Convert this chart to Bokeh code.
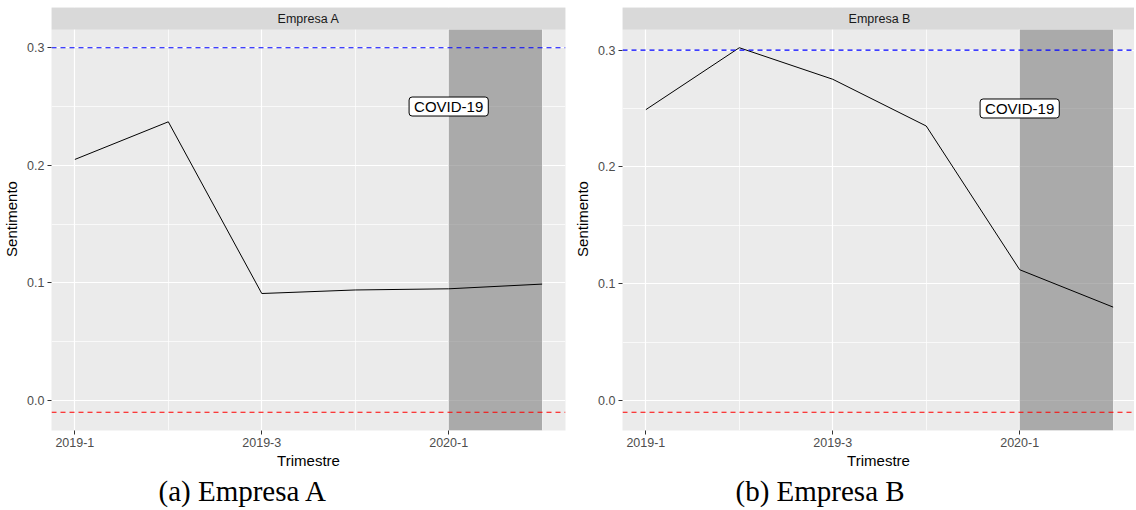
from bokeh.plotting import figure
from bokeh.layouts import row
from bokeh.models import FixedTicker, Span, Label, Range1d, PrintfTickFormatter, Title
from bokeh.core.properties import value
from bokeh.embed import file_html
from bokeh.resources import INLINE

# ---- data ----
quarters = ["2019-1", "2019-2", "2019-3", "2019-4", "2020-1", "2020-2"]
x_idx = [1, 2, 3, 4, 5, 6]
tick_idx = [1, 3, 5]
minor_idx = [2, 4, 6]
sent_a = [0.205, 0.237, 0.091, 0.094, 0.095, 0.099]
sent_b = [0.249, 0.302, 0.275, 0.235, 0.112, 0.080]
upper_line = 0.30
lower_line = -0.01
covid_start, covid_end = 5, 6
covid_label = "COVID-19"
covid_label_y = 0.25
y_major = [0.0, 0.1, 0.2, 0.3]
y_minor = [0.05, 0.15, 0.25]
panels = ["Empresa A", "Empresa B"]
captions = ["(a) Empresa A", "(b) Empresa B"]

# ---- style ----
SANS = "Liberation Sans"
SERIF = "Liberation Serif"
PANEL_H = 401   # px of data panel
STRIP_H = 22
FULL_W = 514
UNIT_X = FULL_W / 5.5


def make_panel(title, vals, frame_w, left_b, right_b, caption, caption_off):
    lo = min(min(vals), lower_line)
    hi = max(max(vals), upper_line)
    pad = (hi - lo) * 0.05
    ymin, ymax = lo - pad, hi + pad
    strip_top = ymax + STRIP_H * (ymax - ymin) / PANEL_H
    x0 = 0.75
    x1 = x0 + frame_w / UNIT_X
    xfull = x0 + FULL_W / UNIT_X
    p = figure(frame_width=frame_w, frame_height=PANEL_H + STRIP_H,
               x_range=Range1d(x0, x1), y_range=Range1d(ymin, strip_top),
               output_backend="svg", toolbar_location=None,
               min_border_left=left_b, min_border_right=right_b,
               min_border_top=7, min_border_bottom=80,
               background_fill_color="#EBEBEB", border_fill_color="white",
               outline_line_color=None)
    # axes
    p.xaxis.ticker = FixedTicker(ticks=tick_idx, minor_ticks=minor_idx)
    p.xaxis.major_label_overrides = {i: quarters[i - 1] for i in tick_idx}
    p.yaxis.ticker = FixedTicker(ticks=y_major, minor_ticks=y_minor)
    p.yaxis.formatter = PrintfTickFormatter(format="%.1f")
    for ax in (p.xaxis, p.yaxis):
        ax.axis_line_color = None
        ax.major_tick_line_color = "#333333"
        ax.major_tick_out = 4
        ax.major_tick_in = 0
        ax.minor_tick_line_color = None
        ax.major_label_text_font = SANS
        ax.major_label_text_font_size = "12.5px"
        ax.major_label_text_color = "#4D4D4D"
        ax.major_label_standoff = 3
        ax.axis_label_text_font = SANS
        ax.axis_label_text_font_size = "15px"
        ax.axis_label_text_font_style = "normal"
        ax.axis_label_text_color = "black"
        ax.axis_label_standoff = 2
    p.yaxis.axis_label_standoff = 4
    p.xaxis.axis_label = "Trimestre"
    p.yaxis.axis_label = "Sentimento"
    # grids
    for g in (p.xgrid, p.ygrid):
        g.grid_line_color = "white"
        g.grid_line_width = 1.2
        g.minor_grid_line_color = "white"
        g.minor_grid_line_width = 0.7
    # covid shade
    p.quad(left=[covid_start], right=[covid_end], bottom=[ymin], top=[ymax],
           fill_color="#7F7F7F", fill_alpha=0.6, line_color=None)
    # strip
    p.quad(left=[x0], right=[x1], bottom=[ymax], top=[strip_top],
           fill_color="#D9D9D9", line_color=None)
    p.text(x=[(x0 + xfull) / 2], y=[(ymax + strip_top) / 2], text=[title],
           text_font=value(SANS), text_font_size="12.5px", text_color="#1A1A1A",
           text_align="center", text_baseline="middle")
    # series
    p.line(x_idx, vals, line_color="black", line_width=1)
    p.add_layout(Span(location=upper_line, dimension="width", line_color="blue",
                      line_dash="5 4", line_width=1.2))
    p.add_layout(Span(location=lower_line, dimension="width", line_color="red",
                      line_dash="5 4", line_width=1.2))
    p.add_layout(Label(x=covid_start, y=covid_label_y, text=covid_label,
                       text_font=SANS, text_font_size="15px", text_color="black",
                       text_align="center", text_baseline="middle",
                       background_fill_color="white", border_line_color="black",
                       border_line_width=1, padding=(5, 1), border_radius=3))
    # caption
    p.add_layout(Title(text=caption, align="left", offset=caption_off,
                       standoff=2, text_font=SERIF, text_font_size="29px",
                       text_font_style="normal", text_color="black"), "below")
    return p


pa = make_panel(panels[0], sent_a, 514, 51, 6, captions[0], 107)
pb = make_panel(panels[1], sent_b, 512, 51, 0, captions[1], 113)

layout = row(pa, pb)
open("out.html", "w").write(file_html(layout, INLINE))
